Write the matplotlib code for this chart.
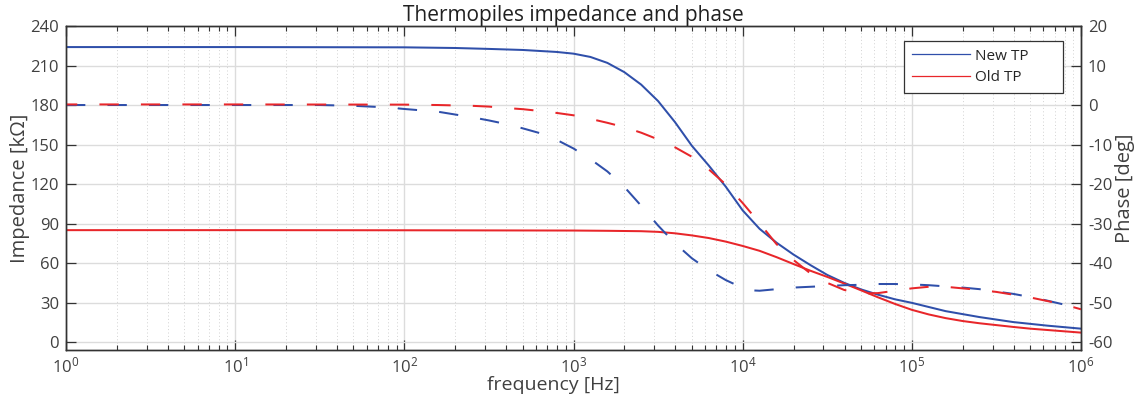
import numpy as np
import matplotlib
matplotlib.use("Agg")
import matplotlib.pyplot as plt
from matplotlib.ticker import FixedLocator, NullFormatter, LogFormatterSciNotation

plt.rcParams['font.family'] = ['Open Sans', 'DejaVu Sans']
plt.rcParams['mathtext.fontset'] = 'custom'
plt.rcParams['mathtext.rm'] = 'Open Sans'
plt.rcParams['mathtext.it'] = 'Open Sans:italic'
plt.rcParams['mathtext.bf'] = 'Open Sans:bold'
plt.rcParams['axes.unicode_minus'] = False

# ---- data (frequencies as log10(Hz)) ----
new_mag_logf = [0, 1, 2.0, 2.3, 2.5, 2.7, 2.9, 3.0, 3.1, 3.2, 3.3, 3.4, 3.5, 3.6, 3.7, 3.8,
                3.9, 4.0, 4.1, 4.2, 4.3, 4.4, 4.5, 4.6, 4.7, 4.8, 4.9, 5.0, 5.2, 5.4, 5.6,
                5.8, 6.0]
new_mag = [224, 224, 223.8, 223.3, 222.6, 221.8, 220.3, 219, 216.5, 212, 205, 195.5, 183,
           167, 149, 134, 118, 100, 86, 75.5, 66.5, 58.5, 51, 45, 40, 36, 32.5, 29.8, 23.5,
           19, 15.2, 12.5, 10.2]

old_mag_logf = [0, 1, 2, 3, 3.2, 3.4, 3.5, 3.6, 3.7, 3.8, 3.9, 4.0, 4.1, 4.2, 4.3, 4.4,
                4.5, 4.6, 4.7, 4.8, 4.9, 5.0, 5.1, 5.2, 5.3, 5.4, 5.5, 5.6, 5.7, 5.8, 5.9, 6.0]
old_mag = [85, 85, 84.9, 84.7, 84.5, 84.2, 83.7, 82.6, 81, 79, 76.3, 73, 69.3, 64.5, 59.3,
           54.2, 49.5, 44.5, 39.3, 34, 29, 24.5, 21, 18.2, 16, 14.3, 12.9, 11.5, 10.2, 9.2,
           8.2, 7.2]

new_ph_logf = [0, 1, 1.5, 1.7, 1.9, 2.0, 2.1, 2.2, 2.3, 2.4, 2.5, 2.6, 2.7, 2.8, 2.9, 3.0,
               3.1, 3.2, 3.3, 3.4, 3.5, 3.6, 3.7, 3.8, 3.9, 4.0, 4.05, 4.1, 4.2, 4.3, 4.4,
               4.5, 4.6, 4.7, 4.8, 4.9, 5.0, 5.1, 5.2, 5.3, 5.4, 5.5, 5.6, 5.7, 5.8, 5.9, 6.0]
new_ph = [0, 0, 0, -0.2, -0.6, -1.0, -1.35, -1.7, -2.4, -3.1, -3.9, -4.8, -5.9, -7.1, -8.8,
          -11, -13.7, -16.8, -20.7, -25.5, -30.5, -35, -38.8, -41.8, -44.3, -46.3, -46.9, -47,
          -46.6, -46.2, -46, -45.8, -45.6, -45.5, -45.3, -45.3, -45.4, -45.6, -45.9, -46.2,
          -46.6, -47.2, -47.8, -48.6, -49.5, -50.5, -51.7]

old_ph_logf = [0, 1, 2.0, 2.2, 2.3, 2.4, 2.5, 2.6, 2.7, 2.8, 2.9, 3.0, 3.1, 3.2, 3.3, 3.4,
               3.5, 3.6, 3.7, 3.8, 3.9, 4.0, 4.1, 4.2, 4.3, 4.4, 4.5, 4.6, 4.7, 4.8, 4.9,
               5.0, 5.1, 5.2, 5.3, 5.4, 5.5, 5.6, 5.7, 5.8, 5.9, 6.0]
old_ph = [0.15, 0.15, 0.1, 0, -0.1, -0.2, -0.4, -0.75, -1.05, -1.5, -2.0, -2.6, -3.5, -4.5,
          -5.6, -7.0, -8.7, -10.7, -13.1, -16.3, -20.1, -24.8, -29.9, -35.2, -39.2, -42.6,
          -45, -46.8, -47.7, -47.6, -47, -46.4, -46, -46, -46.4, -46.8, -47.3, -48, -48.7,
          -49.6, -50.5, -51.7]

series_labels = ["New TP", "Old TP"]
x_decades = [0, 1, 2, 3, 4, 5, 6]
left_ticks = [0, 30, 60, 90, 120, 150, 180, 210, 240]
right_ticks = [-60, -50, -40, -30, -20, -10, 0, 10, 20]

BLUE = "#2F4FAA"
RED = "#E8262A"
TXT = "#404040"
AX = "#333333"

fig = plt.figure(figsize=(11.39, 3.98), dpi=100)
ax = fig.add_axes([66/1139, 1-350/398, (1081-66)/1139, (350-26)/398])
ax2 = ax.twinx()

f = lambda lf: np.power(10.0, np.asarray(lf, dtype=float))

lw = 1.45
dash = (9.6, 11.0)
ax.plot(f(new_mag_logf), new_mag, color=BLUE, lw=lw)
ax.plot(f(old_mag_logf), old_mag, color=RED, lw=lw)
ax2.plot(f(new_ph_logf), new_ph, color=BLUE, lw=lw, linestyle=(0, dash))
ax2.plot(f(old_ph_logf), old_ph, color=RED, lw=lw, linestyle=(4, dash))

ax.set_xscale('log')
ax.set_xlim(1, 1e6)
ax.set_ylim(-6, 240)
ax2.set_ylim(-62, 20)
ax.yaxis.set_major_locator(FixedLocator(left_ticks))
ax2.yaxis.set_major_locator(FixedLocator(right_ticks))
major_x = [10.0 ** d for d in x_decades]
minor_x = [m * 10.0 ** d for d in x_decades[:-1] for m in range(2, 10)]
ax.xaxis.set_major_locator(FixedLocator(major_x))
ax.xaxis.set_major_formatter(LogFormatterSciNotation())
ax.xaxis.set_minor_locator(FixedLocator(minor_x))
ax.xaxis.set_minor_formatter(NullFormatter())

ax.grid(True, which='major', color='#DCDCDC', lw=1.0, ls='-')
ax.grid(True, which='minor', axis='x', color='#D2D2D2', lw=0.7, ls=(0, (1, 2.5)))
ax.set_axisbelow(True)

for a in (ax, ax2):
    for s in a.spines.values():
        s.set_color(AX)
        s.set_linewidth(1.0)
ax.tick_params(which='major', direction='in', length=7, width=0.9, color=AX,
               labelsize=12, labelcolor=TXT, top=True, right=False, pad=5)
ax.tick_params(which='minor', direction='in', length=3.5, width=0.8, color=AX, top=True, right=False)
ax2.tick_params(which='major', direction='in', length=7, width=0.9, color=AX,
                labelsize=12, labelcolor=TXT, pad=5)
ax2.tick_params(which='minor', right=False)

ax.set_xlabel("frequency [Hz]", fontsize=14, color=TXT)
ax.xaxis.set_label_coords(0.48, -0.08)
ax.set_ylabel("Impedance [kΩ]", fontsize=14.5, color=TXT, labelpad=0)
ax2.set_ylabel("Phase [deg]", fontsize=14.5, color=TXT, labelpad=2)
ax.set_title("Thermopiles impedance and phase", fontsize=15, color='#202020', pad=3)

leg = ax2.legend([plt.Line2D([], [], color=BLUE, lw=0.9), plt.Line2D([], [], color=RED, lw=0.9)],
                 series_labels, loc='upper left', bbox_to_anchor=(0.8256, 0.784, 0.1566, 0.17),
                 mode='expand', borderaxespad=0, fontsize=11, handlelength=3.8, handletextpad=0.35,
                 labelspacing=0.45, borderpad=0.5, fancybox=False, framealpha=1, edgecolor='#333333')
leg.get_frame().set_linewidth(0.9)
for t in leg.get_texts():
    t.set_color('#262626')

fig.savefig("out.png", dpi=100)
